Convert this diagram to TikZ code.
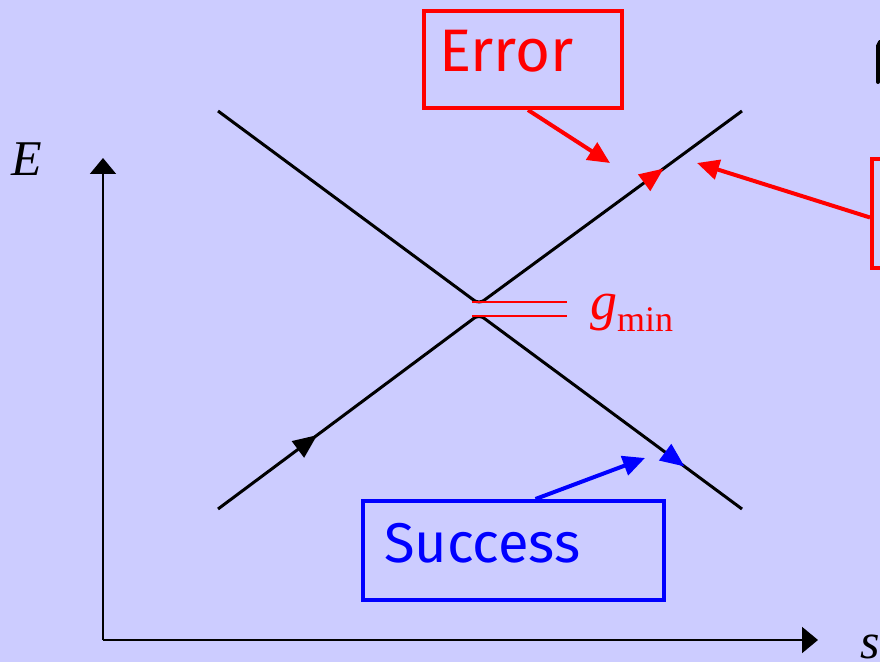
\documentclass[tikz,border=0pt]{standalone}
\usepackage{fontspec}
\newfontfamily\boxfont{Fira Sans}
\newfontfamily\labfont{Liberation Serif}
\usetikzlibrary{arrows.meta,calc,decorations.markings}
\definecolor{bgblue}{RGB}{204,204,255}
\tikzset{
    mybox/.style={draw=#1,line width=4pt,align=left,text=#1,font=\boxfont\fontsize{60}{64}\selectfont},
    mylabel/.style={anchor=base west,font=\labfont\fontsize{50}{54}\selectfont\itshape},
    mylevel/.style={line width=3pt,draw=black,rounded corners=6pt},
    myaxis/.style={line width=2pt,-{Triangle[length=16pt,width=26pt]}},
    mypointer/.style={line width=4pt,draw=#1,-{Triangle[length=22pt,width=20pt]}},
    mymark/.style 2 args={postaction={decorate,decoration={markings,mark=at position #1 with {\arrow[#2]{Triangle[length=24pt,width=20pt]}}}}},
    every node/.style={inner sep=0pt}
}

\begin{document}
\begin{tikzpicture}[x=1pt,y=1pt]
  \fill[bgblue] (0,0) rectangle (880,662);
  \useasboundingbox (0,0) rectangle (880,662);
  \coordinate (O) at (103,22);
  \coordinate (Etop) at (103,504);
  \coordinate (send) at (818,22);
  \draw[myaxis] (O) -- (Etop);
  \draw[myaxis] (O) -- (send);
  \node[mylabel] (Elab) at (11,486) {E};
  \node[mylabel] (slab) at (860,4) {s};
  \coordinate (UL) at (218,551);
  \coordinate (UV) at (479,358);
  \coordinate (UR) at (742,551);
  \coordinate (LL) at (218,153);
  \coordinate (LV) at (479,347.5);
  \coordinate (LR) at (742,153);
  \draw[mylevel,mymark={0.85}{red}] (UL) -- (UV) -- (UR);
  \draw[mylevel,mymark={0.19}{black},mymark={0.89}{blue}] (LL) -- (LV) -- (LR);
  \draw[red,line width=1.5pt] (472,360) -- (567,360);
  \draw[red,line width=1.5pt] (472,346) -- (567,346);
  \node[mylabel,text=red,font=\labfont\fontsize{54}{58}\selectfont\itshape] (gmin) at (590,342) {g\raisebox{-12pt}{\upshape\fontsize{36}{40}\selectfont min}};
  \node[mybox=red,minimum width=198pt,minimum height=97pt,inner xsep=15pt,text width=168pt,text height=44pt,text depth=19pt] (err) at (523,602.5) {Error};
  \node[mybox=blue,minimum width=301pt,minimum height=99pt,inner xsep=21pt,text width=259pt,text height=40pt,text depth=17pt,font=\boxfont\fontsize{56}{60}\selectfont] (suc) at (513.5,111.5) {Success};
  \node[mybox=red,minimum width=200pt,minimum height=109pt,anchor=west] (adi) at (870,448.5) {};
  \coordinate (errtip) at (610,499);
  \coordinate (aditip) at (697,499);
  \coordinate (suctip) at (645,204);
  \draw[mypointer=red] ([xshift=5pt]err.south) -- (errtip);
  \draw[mypointer=red] ([yshift=-4pt]adi.west) -- (aditip);
  \draw[mypointer=blue] ([xshift=22pt]suc.north) -- (suctip);
  \draw[line width=4pt,line cap=round] (878,580) -- (878,616) -- (880,620);
\end{tikzpicture}
\end{document}
